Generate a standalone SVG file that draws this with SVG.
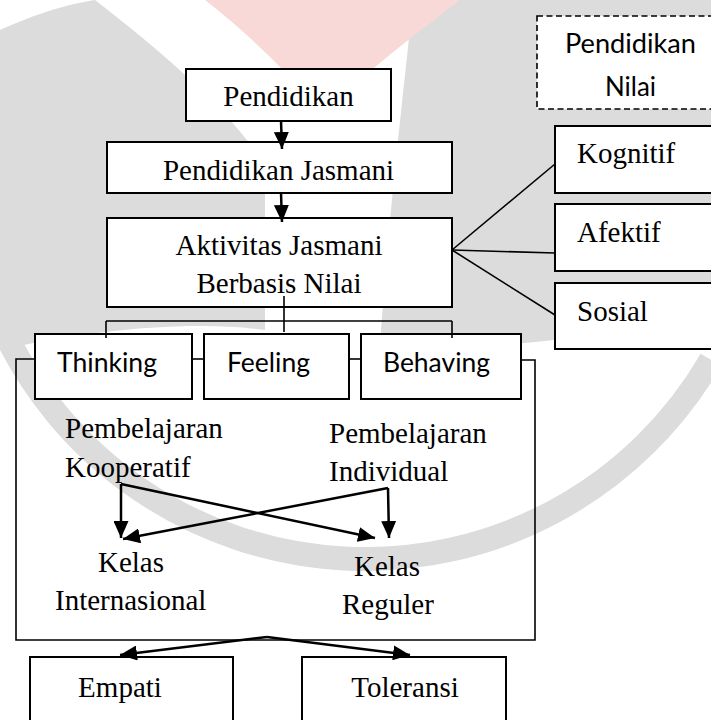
<svg xmlns="http://www.w3.org/2000/svg" width="711" height="720" viewBox="0 0 711 720">
<style>
.box{fill:#fff;stroke:#000;stroke-width:2}
.dash{fill:#fff;stroke:#000;stroke-width:1.6;stroke-dasharray:6 3.5}
.serif{font-family:"Liberation Serif","Times New Roman",serif;font-size:29px;fill:#000}
.sans{font-family:Lato,"Open Sans","Liberation Sans",sans-serif;font-size:26px;fill:#000}
.mid{text-anchor:middle}
.ln{stroke:#000;stroke-width:1.6;fill:none}
.ar{stroke:#000;stroke-width:2.5;fill:none;marker-end:url(#ah)}
.wm{fill:#dcdcdc}
</style>
<defs>
<marker id="ah" markerUnits="userSpaceOnUse" markerWidth="17" markerHeight="15" refX="17" refY="7.5" orient="auto">
<path d="M0,0 L17,7.5 L0,15 Z" fill="#000"/>
</marker>
</defs>
<rect width="711" height="720" fill="#fff"/>
<g id="watermark">
<path class="wm" d="M0,30 C40,12 70,4 95,0 C160,50 230,110 265,165 L265,330 C190,320 90,330 0,350 Z"/>
<path class="wm" d="M413,0 L711,0 L711,290 C640,330 560,345 470,345 L380,345 C390,200 405,80 413,0 Z"/>
<path fill="#f9d8d8" d="M205,0 L460,0 C415,35 360,75 325,115 C290,75 250,35 205,0 Z"/>
<path fill="none" stroke="#dcdcdc" stroke-width="24" d="M0,322.6 A400,400 0 0 0 711,359.7"/>
</g>
<g id="n-pendidikan"><rect class="box" x="186" y="69" width="205" height="52"/><text class="serif mid" x="288.5" y="106">Pendidikan</text></g>
<g id="n-penjas"><rect class="box" x="107" y="142" width="345" height="51"/><text class="serif mid" x="278.5" y="180">Pendidikan Jasmani</text></g>
<g id="n-aktivitas"><rect class="box" x="107" y="218" width="345" height="89"/><text class="serif mid" x="279" y="255">Aktivitas Jasmani</text><text class="serif mid" x="279" y="293">Berbasis Nilai</text></g>
<g id="n-nilai"><rect class="dash" x="537" y="16" width="190" height="93"/><text class="sans" x="565" y="53" textLength="131" lengthAdjust="spacingAndGlyphs">Pendidikan</text><text class="sans" x="605" y="96" textLength="51" lengthAdjust="spacingAndGlyphs">Nilai</text></g>
<g id="n-kognitif"><rect class="box" x="555" y="126" width="170" height="67"/><text class="serif" x="577" y="163">Kognitif</text></g>
<g id="n-afektif"><rect class="box" x="555" y="204" width="170" height="67"/><text class="serif" x="577" y="242">Afektif</text></g>
<g id="n-sosial"><rect class="box" x="555" y="283" width="170" height="66"/><text class="serif" x="577" y="321">Sosial</text></g>
<g id="n-thinking"><rect class="box" x="35" y="334" width="157" height="65"/><text class="sans" x="57" y="372" textLength="100" lengthAdjust="spacingAndGlyphs">Thinking</text></g>
<g id="n-feeling"><rect class="box" x="204" y="334" width="145" height="65"/><text class="sans" x="227" y="372" textLength="83" lengthAdjust="spacingAndGlyphs">Feeling</text></g>
<g id="n-behaving"><rect class="box" x="361" y="334" width="160" height="65"/><text class="sans" x="383" y="372" textLength="107" lengthAdjust="spacingAndGlyphs">Behaving</text></g>
<g id="n-kooperatif"><text class="serif" x="65" y="438">Pembelajaran</text><text class="serif" x="65" y="477">Kooperatif</text></g>
<g id="n-individual"><text class="serif" x="329" y="443">Pembelajaran</text><text class="serif" x="329" y="481">Individual</text></g>
<g id="n-internasional"><text class="serif" x="98" y="572">Kelas</text><text class="serif" x="55" y="610">Internasional</text></g>
<g id="n-reguler"><text class="serif" x="354" y="576">Kelas</text><text class="serif" x="342" y="614">Reguler</text></g>
<g id="n-empati"><rect class="box" x="30" y="657" width="203" height="80"/><text class="serif mid" x="120" y="697">Empati</text></g>
<g id="n-toleransi"><rect class="box" x="302" y="657" width="204" height="80"/><text class="serif mid" x="405" y="697">Toleransi</text></g>
<g id="connectors">
<line class="ar" x1="281" y1="121" x2="282" y2="149"/>
<line class="ar" x1="281" y1="193" x2="282" y2="222"/>
<line class="ln" x1="452" y1="250" x2="555" y2="164"/>
<line class="ln" x1="452" y1="250" x2="555" y2="253"/>
<line class="ln" x1="452" y1="250" x2="555" y2="315"/>
<line class="ln" x1="284" y1="296" x2="284" y2="332"/>
<line class="ln" x1="106" y1="321" x2="452" y2="321"/>
<line class="ln" x1="106" y1="321" x2="106" y2="338"/>
<line class="ln" x1="452" y1="321" x2="452" y2="338"/>
<line class="ln" x1="192" y1="359" x2="204" y2="359"/>
<line class="ln" x1="349" y1="359" x2="361" y2="359"/>
<path class="ln" stroke-width="2" d="M35,359 H16 V640 H535 V360 H521"/>
<line class="ar" x1="121" y1="484" x2="121" y2="538"/>
<line class="ar" x1="121" y1="484" x2="375" y2="538"/>
<line class="ar" x1="388" y1="488" x2="389" y2="538"/>
<line class="ar" x1="388" y1="488" x2="123" y2="539"/>
<line class="ar" x1="267" y1="637" x2="120" y2="655"/>
<line class="ar" x1="267" y1="637" x2="410" y2="655"/>
</g>
</svg>
